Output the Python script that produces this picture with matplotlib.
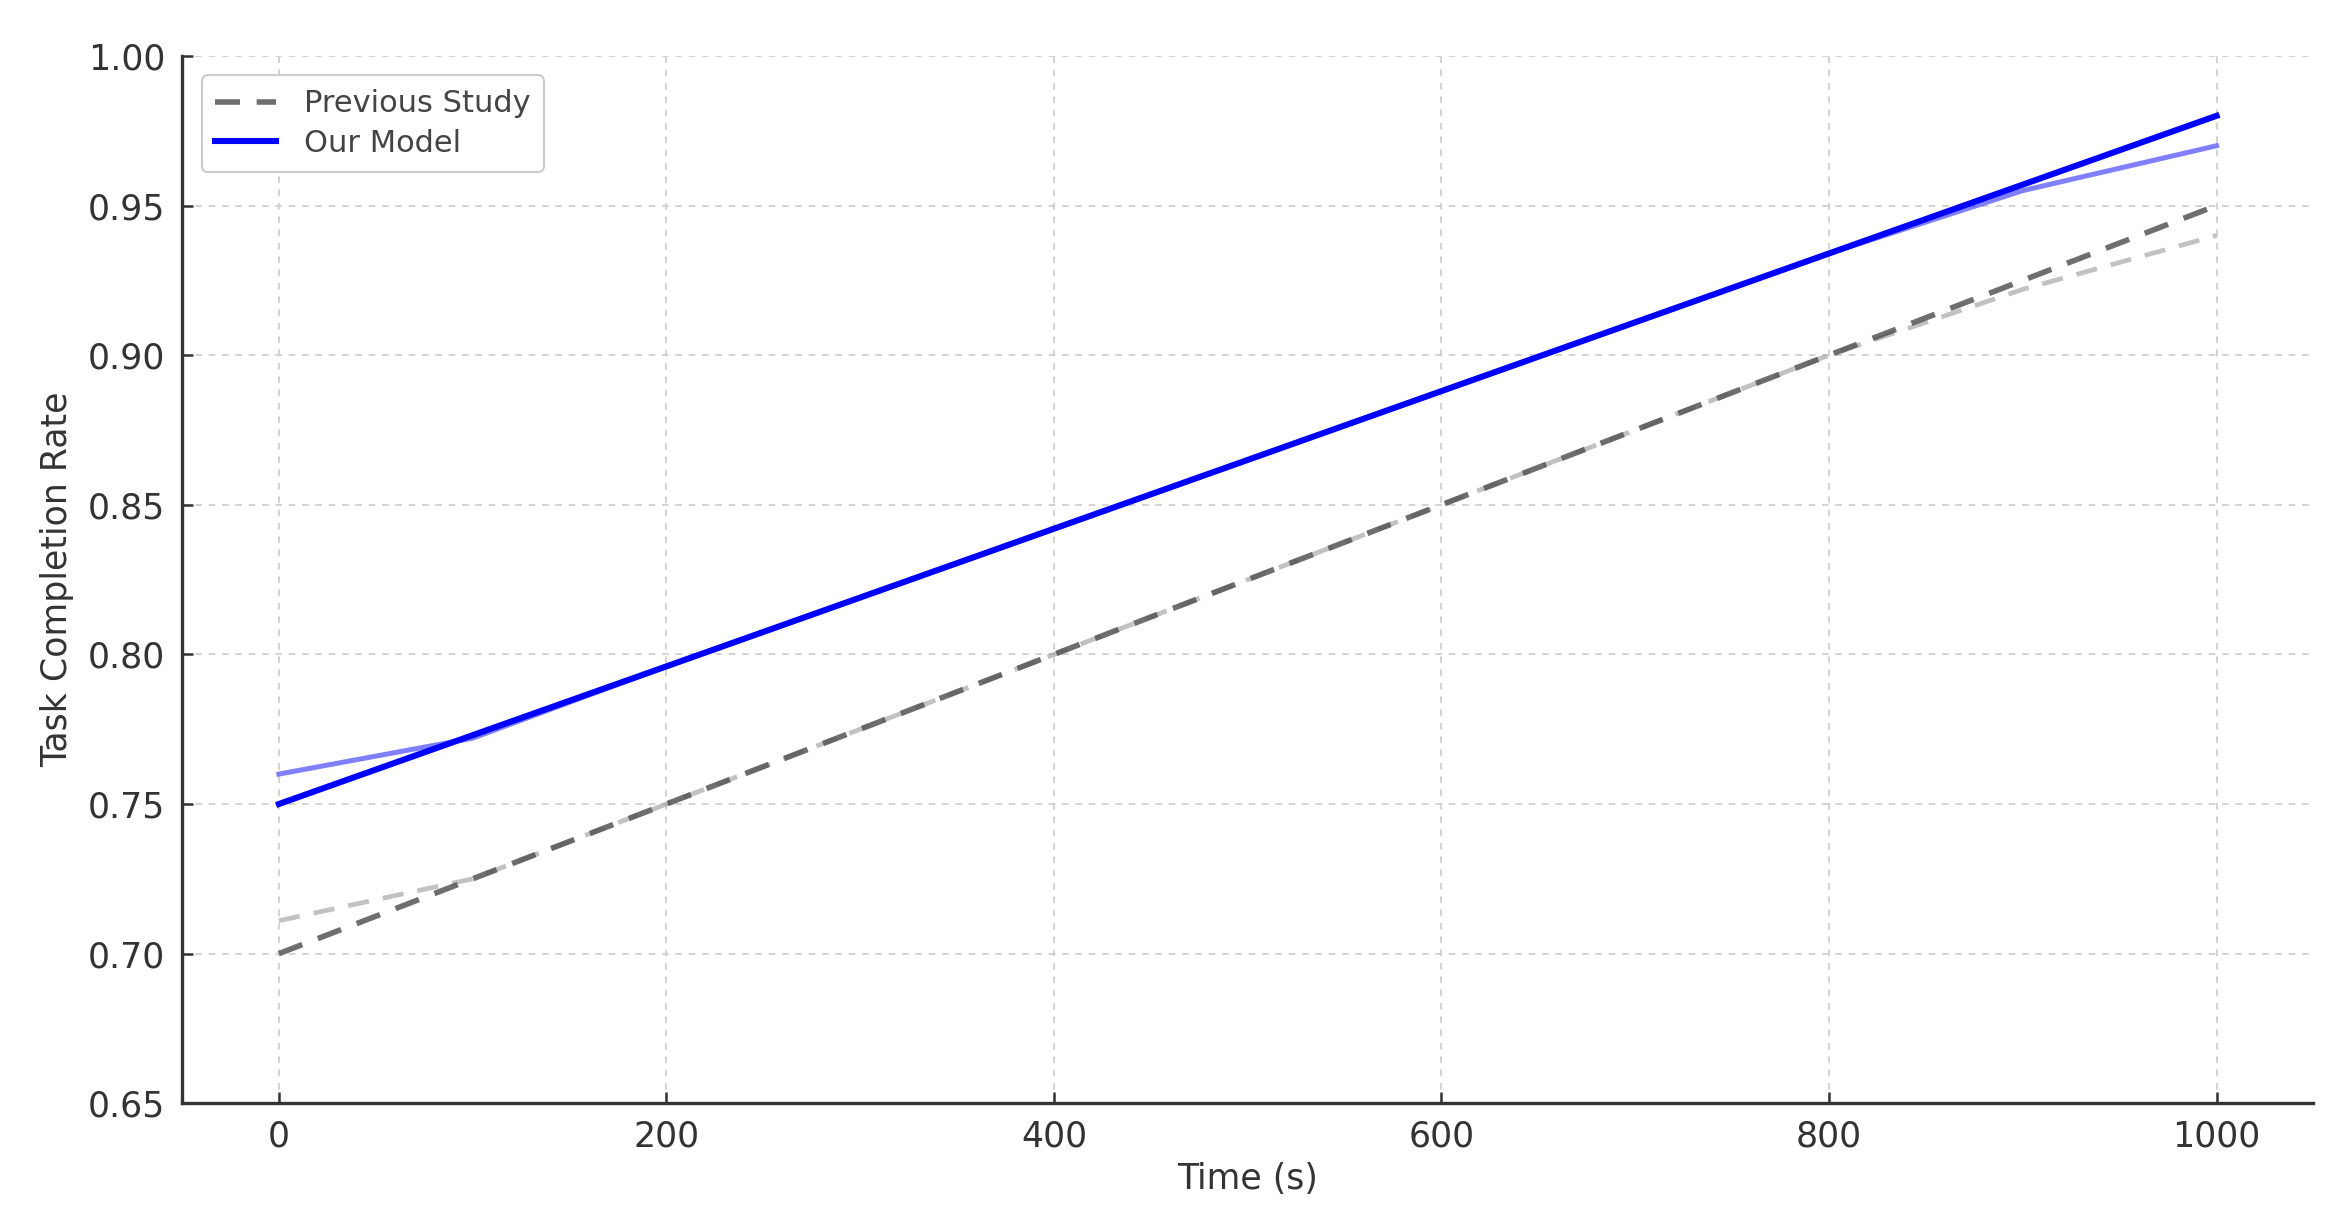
import matplotlib
matplotlib.use("Agg")
import matplotlib.pyplot as plt

# data
time_s = [0, 100, 200, 300, 400, 500, 600, 700, 800, 900, 1000]
our_model = [0.750, 0.773, 0.796, 0.819, 0.842, 0.865, 0.888, 0.911, 0.934, 0.957, 0.980]
our_model_faded = [0.760, 0.772, 0.796, 0.819, 0.842, 0.865, 0.888, 0.911, 0.934, 0.955, 0.970]
previous = [0.700, 0.725, 0.750, 0.775, 0.800, 0.825, 0.850, 0.875, 0.900, 0.925, 0.950]
previous_faded = [0.711, 0.725, 0.750, 0.775, 0.800, 0.825, 0.850, 0.875, 0.900, 0.922, 0.940]

x_ticks = [0, 200, 400, 600, 800, 1000]
y_ticks = [0.65, 0.70, 0.75, 0.80, 0.85, 0.90, 0.95, 1.00]

plt.rcParams['font.family'] = 'DejaVu Sans'

fig = plt.figure(figsize=(23.46, 12.17), dpi=100)
ax = fig.add_axes([0.0776, 0.0935, 0.9085, 0.8605])

# faded versions underneath
ax.plot(time_s, previous_faded, color='#a0a0a0', alpha=0.65, lw=3.4,
        linestyle='--', dashes=(4.5, 3))
ax.plot(time_s, our_model_faded, color='#0000ff', alpha=0.5, lw=3.6)

# main lines
ax.plot(time_s, previous, color='#555555', alpha=0.85, lw=4.0,
        linestyle='--', dashes=(4.5, 3), label='Previous Study')
ax.plot(time_s, our_model, color='#0000ff', lw=4.4, label='Our Model')

ax.set_xlim(-50, 1050)
ax.set_ylim(0.65, 1.00)
ax.set_xticks(x_ticks)
ax.set_yticks(y_ticks)
ax.set_yticklabels([f'{v:.2f}' for v in y_ticks])

ax.grid(True, color='#cccccc', linestyle=(0, (4, 4)), lw=1.2)
ax.set_axisbelow(True)

for side in ['top', 'right']:
    ax.spines[side].set_visible(False)
for side in ['left', 'bottom']:
    ax.spines[side].set_color('#333333')
    ax.spines[side].set_linewidth(2.4)

ax.tick_params(axis='both', direction='in', length=8, width=1.8,
               colors='#333333', labelsize=25, pad=12)

ax.set_xlabel('Time (s)', fontsize=25, color='#333333', labelpad=6)
ax.set_ylabel('Task Completion Rate', fontsize=25, color='#333333', labelpad=10)

leg = ax.legend(loc='upper left', fontsize=22, frameon=True, fancybox=True,
                framealpha=1.0, edgecolor='#cccccc', borderpad=0.45,
                handlelength=2.0, handletextpad=0.9, labelspacing=0.35,
                bbox_to_anchor=(0.002, 0.996))
for t in leg.get_texts():
    t.set_color('#444444')
leg.get_frame().set_linewidth(1.5)

fig.savefig('out.png', dpi=100, facecolor='white')
